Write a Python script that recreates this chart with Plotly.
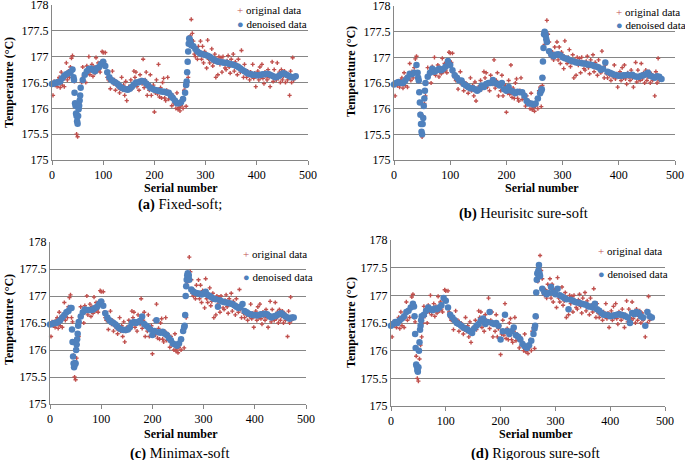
import plotly.graph_objects as go

# ---------------- data ----------------
orig_x = list(range(0, 476, 2))
orig_y = [
    176.48, 176.25, 176.52, 176.45, 176.5, 176.42, 176.55, 176.6, 176.4, 176.7,
    176.45, 176.62, 176.42, 176.6, 176.88, 176.55, 176.72, 176.6, 176.8, 176.97,
    177.02, 176.6, 176.52, 175.9, 175.5, 175.45, 175.85, 176.1, 176.25, 176.5,
    176.8, 176.62, 176.68, 176.5, 176.82, 176.7, 177.0, 176.65, 176.72, 176.85,
    176.62, 176.8, 176.68, 176.98, 176.72, 176.88, 176.75, 176.7, 176.9, 177.1,
    177.08, 176.9, 177.08, 176.7, 176.6, 176.55, 176.62, 176.38, 176.58, 176.72,
    176.48, 176.55, 176.35, 176.45, 176.5, 176.4, 176.3, 176.38, 176.6, 176.35,
    176.45, 176.25, 176.52, 176.15, 176.35, 176.42, 176.4, 176.55, 176.38, 176.45,
    176.72, 176.6, 176.7, 176.42, 176.5, 176.35, 176.65, 176.55, 176.48, 176.95,
    176.4, 176.55, 176.7, 176.25, 176.48, 176.35, 176.65, 176.25, 176.4, 176.45,
    175.93, 176.3, 176.55, 176.28, 176.85, 176.22, 176.4, 176.2, 176.5, 176.58,
    176.2, 176.15, 176.35, 176.6, 176.18, 176.3, 176.22, 176.05, 176.25, 176.1,
    176.15, 176.0, 176.3, 175.98, 176.02, 175.95, 176.05, 176.2, 176.0, 176.35,
    176.42, 176.04, 176.45, 176.6, 177.25, 177.4, 177.72, 177.45, 177.3, 177.05,
    177.0, 177.1, 176.95, 177.2, 177.05, 177.3, 176.95, 177.2, 176.88, 177.1,
    177.05, 176.78, 177.32, 176.95, 176.88, 177.0, 177.15, 176.82, 176.9, 177.05,
    176.6, 176.95, 176.65, 177.0, 176.85, 176.98, 176.7, 177.0, 176.9, 176.78,
    176.75, 176.92, 177.02, 176.8, 176.68, 176.95, 176.85, 177.05, 176.72, 176.9,
    176.8, 176.65, 176.95, 176.82, 176.7, 177.12, 176.75, 176.6, 176.85, 176.68,
    176.6, 176.72, 176.65, 176.55, 176.7, 176.62, 176.85, 176.58, 176.68, 176.42,
    176.62, 176.72, 176.55, 176.8, 176.6, 176.85, 176.58, 176.48, 176.7, 176.62,
    176.55, 176.75, 176.6, 176.42, 176.65, 176.9, 176.52, 176.75, 176.6, 176.55,
    176.88, 176.58, 176.7, 176.5, 176.75, 176.55, 176.62, 176.72, 176.5, 176.68,
    176.55, 176.6, 176.25, 176.72, 176.5, 176.98, 176.55, 176.62,
]

den_x = (list(range(0, 41, 4)) + list(range(42, 57)) + list(range(60, 261, 4))
         + list(range(262, 273)) + list(range(276, 477, 4)))

den_a = [
    176.47, 176.48, 176.5, 176.5, 176.52, 176.58, 176.63, 176.66, 176.68, 176.7, 176.75,
    176.6, 176.55, 176.3, 176.1, 176.05, 175.9, 175.85, 175.75, 175.7, 175.85, 175.98, 176.05, 176.15, 176.25, 176.4,
    176.55, 176.65, 176.72, 176.76, 176.77, 176.74, 176.72, 176.78, 176.8, 176.86,
    176.9, 176.82, 176.7, 176.6, 176.55, 176.52, 176.5, 176.47, 176.43, 176.4,
    176.38, 176.37, 176.36, 176.38, 176.42, 176.46, 176.5, 176.5, 176.52, 176.53,
    176.52, 176.48, 176.44, 176.4, 176.38, 176.36, 176.35, 176.34, 176.33, 176.32,
    176.32, 176.3, 176.3, 176.25, 176.2, 176.15, 176.1, 176.1, 176.12, 176.18,
    176.3,
    176.45, 176.52, 176.7, 176.9, 177.1, 177.25, 177.35, 177.33, 177.3, 177.25, 177.22,
    177.2, 177.15, 177.1, 177.07, 177.05, 177.04, 177.03, 177.02, 177.0, 176.97,
    176.94, 176.92, 176.9, 176.9, 176.89, 176.88, 176.88, 176.87, 176.86, 176.85,
    176.84, 176.82, 176.8, 176.77, 176.74, 176.72, 176.69, 176.67, 176.66, 176.65,
    176.65, 176.64, 176.64, 176.65, 176.66, 176.66, 176.67, 176.66, 176.64, 176.62,
    176.6, 176.61, 176.63, 176.66, 176.68, 176.66, 176.64, 176.62, 176.6, 176.6,
    176.62,
]

den_b = [
    176.47, 176.5, 176.52, 176.5, 176.5, 176.55, 176.6, 176.68, 176.67, 176.7, 176.85,
    176.7, 176.6, 176.55, 176.32, 176.12, 175.88, 175.7, 175.55, 175.5, 175.7, 175.82, 176.05, 176.2, 176.35, 176.5,
    176.62, 176.7, 176.78, 176.72, 176.75, 176.78, 176.75, 176.78, 176.82, 176.93,
    176.85, 176.75, 176.65, 176.6, 176.55, 176.55, 176.48, 176.45, 176.42, 176.4,
    176.4, 176.38, 176.35, 176.38, 176.45, 176.42, 176.48, 176.5, 176.5, 176.56,
    176.5, 176.48, 176.45, 176.5, 176.38, 176.35, 176.42, 176.35, 176.33, 176.3,
    176.33, 176.32, 176.32, 176.25, 176.15, 176.1, 176.1, 176.08, 176.1, 176.2,
    176.3,
    176.35, 176.38, 176.6, 176.92, 177.18, 177.45, 177.5, 177.47, 177.42, 177.35, 177.3,
    177.12, 177.05, 177.02, 177.05, 177.06, 177.04, 177.0, 176.98, 176.97, 176.95,
    176.93, 176.92, 176.9, 176.9, 176.89, 176.88, 176.88, 176.86, 176.86, 176.85,
    176.83, 176.82, 176.8, 176.76, 176.78, 176.9, 176.72, 176.7, 176.68, 176.66,
    176.65, 176.64, 176.64, 176.65, 176.65, 176.66, 176.65, 176.66, 176.63, 176.62,
    176.62, 176.64, 176.65, 176.67, 176.7, 176.64, 176.62, 176.6, 176.63, 176.62,
    176.58,
]

den_c = [
    176.47, 176.48, 176.5, 176.5, 176.52, 176.55, 176.6, 176.65, 176.7, 176.72, 176.78,
    176.78, 176.38, 176.15, 175.88, 175.75, 175.68, 175.72, 175.76, 175.75, 176.0, 176.1, 176.2, 176.3, 176.45, 176.52,
    176.62, 176.7, 176.75, 176.74, 176.74, 176.74, 176.75, 176.78, 176.8, 176.85,
    176.9, 176.82, 176.68, 176.6, 176.55, 176.52, 176.5, 176.47, 176.43, 176.4,
    176.38, 176.37, 176.37, 176.38, 176.42, 176.5, 176.52, 176.5, 176.52, 176.54,
    176.62, 176.48, 176.45, 176.42, 176.38, 176.28, 176.35, 176.55, 176.33, 176.32,
    176.34, 176.3, 176.28, 176.22, 176.18, 176.12, 176.1, 176.08, 176.12, 176.2,
    176.35,
    176.42, 176.45, 176.65, 177.0, 177.18, 177.3, 177.38, 177.42, 177.4, 177.38, 177.3,
    177.12, 177.08, 177.06, 177.05, 177.04, 177.03, 177.05, 177.08, 177.02, 177.0,
    176.97, 176.95, 176.94, 176.8, 176.92, 176.9, 176.89, 176.88, 176.87, 176.86,
    176.85, 176.83, 176.8, 176.78, 176.8, 176.85, 176.72, 176.7, 176.67, 176.66,
    176.65, 176.65, 176.64, 176.65, 176.66, 176.66, 176.67, 176.66, 176.63, 176.6,
    176.62, 176.63, 176.65, 176.67, 176.68, 176.65, 176.62, 176.6, 176.58, 176.6,
    176.6,
]

den_d = [
    176.45, 176.48, 176.52, 176.5, 176.55, 176.58, 176.62, 176.7, 176.72, 176.78, 176.85,
    176.8, 176.62, 176.3, 176.05, 175.75, 175.72, 175.65, 175.62, 175.7, 176.0, 176.15, 176.38, 176.45, 176.55, 176.62,
    176.65, 176.72, 176.78, 176.75, 176.73, 176.76, 176.75, 176.78, 176.82, 176.95,
    176.9, 176.78, 176.65, 176.6, 176.55, 176.5, 176.48, 176.45, 176.42, 176.4,
    176.38, 176.35, 176.32, 176.4, 176.45, 176.48, 176.55, 176.58, 176.48, 176.52,
    176.7, 176.5, 176.48, 176.5, 176.45, 176.2, 176.35, 176.65, 176.35, 176.3,
    176.35, 176.42, 176.28, 176.25, 176.2, 176.12, 176.08, 176.05, 176.1, 176.18,
    176.3,
    176.4, 176.45, 176.62, 177.05, 177.28, 177.4, 177.38, 177.45, 177.55, 177.4, 177.35,
    177.12, 177.05, 177.02, 177.04, 177.15, 177.05, 177.02, 177.12, 177.0, 176.98,
    176.95, 176.93, 176.75, 176.92, 176.9, 176.88, 176.87, 176.86, 176.85, 176.84,
    176.83, 176.8, 176.8, 176.78, 176.85, 176.75, 176.72, 176.68, 176.65, 176.65,
    176.64, 176.62, 176.63, 176.64, 176.65, 176.66, 176.65, 176.64, 176.62, 176.6,
    176.5, 176.68, 176.66, 176.7, 176.68, 176.62, 176.6, 176.45, 176.7, 176.62,
    176.6,
]

captions = [("(a)", " Fixed-soft;"), ("(b)", " Heurisitc sure-soft"),
            ("(c)", " Minimax-soft"), ("(d)", " Rigorous sure-soft")]
x_title = "Serial number"
y_title = "Temperature (°C)"
y_ticks = [175, 175.5, 176, 176.5, 177, 177.5, 178]
x_ticks = [0, 100, 200, 300, 400, 500]

# ---------------- layout geometry (window pixels) ----------------
W, H = 685, 460
RED = "#C0504D"
BLUE = "#4F81BD"
FONT = "Liberation Serif"

areas = [(52, 308, 5, 160), (394, 675, 6, 160), (50, 306, 242, 404), (391, 665, 240, 406)]
xtitle_pos = [(181, 188), (542, 188), (181, 434), (536, 434)]
ytitle_pos = [(9, 83), (351, 72), (9, 320), (351, 323)]
cap_pos = [(180, 204), (523, 213), (179, 453), (535, 453)]
leg_pos = [(242, 10, 24), (621, 12, 25), (248, 254, 277), (603, 251, 274)]


def px(x):
    return x / W


def py(y):
    return 1 - y / H


fig = go.Figure()
den_sets = [den_a, den_b, den_c, den_d]
annotations = []
for i in range(4):
    sx = "" if i == 0 else str(i + 1)
    xa, ya = "x" + sx, "y" + sx
    fig.add_trace(go.Scatter(x=orig_x, y=orig_y, mode="markers", xaxis=xa, yaxis=ya,
                             marker=dict(color=RED, size=3.5, symbol="cross", line=dict(width=0)),
                             name="original data", showlegend=False, cliponaxis=False))
    fig.add_trace(go.Scatter(x=den_x, y=den_sets[i], mode="markers", xaxis=xa, yaxis=ya,
                             marker=dict(color=BLUE, size=6.5, line=dict(width=0)),
                             name="denoised data", showlegend=False, cliponaxis=False))
    l, r, t, b = areas[i]
    tickfont = dict(family=FONT, size=12, color="#000")
    fig.layout["xaxis" + sx] = dict(domain=[px(l), px(r)], anchor=ya, range=[0, 500],
                                    tickvals=x_ticks, showgrid=False, zeroline=False,
                                    showline=True, linecolor="#868686", linewidth=1,
                                    ticks="outside", tickcolor="#868686", ticklen=4,
                                    tickfont=tickfont, automargin=False,
                                    ticklabeloverflow="allow")
    fig.layout["yaxis" + sx] = dict(domain=[py(b), py(t)], anchor=xa, range=[175, 178],
                                    tickvals=y_ticks, showgrid=True, gridcolor="#868686",
                                    gridwidth=1, zeroline=False, showline=True,
                                    linecolor="#868686", linewidth=1, ticks="",
                                    tickfont=tickfont, automargin=False,
                                    ticklabeloverflow="allow")
    common = dict(xref="paper", yref="paper", showarrow=False, yanchor="middle")
    fx, fy = xtitle_pos[i]
    annotations.append(dict(x=px(fx), y=py(fy), xanchor="center", text="<b>" + x_title + "</b>",
                            font=dict(family=FONT, size=12, color="#000"), **common))
    tx, ty = ytitle_pos[i]
    annotations.append(dict(x=px(tx), y=py(ty), xanchor="center", text="<b>" + y_title + "</b>",
                            textangle=-90, font=dict(family=FONT, size=12, color="#000"), **common))
    cx, cy = cap_pos[i]
    annotations.append(dict(x=px(cx), y=py(cy), xanchor="center",
                            text="<b>" + captions[i][0] + "</b>" + captions[i][1],
                            font=dict(family=FONT, size=14.5, color="#000"), **common))
    lx, ly1, ly2 = leg_pos[i]
    annotations.append(dict(x=px(lx - 7), y=py(ly1), xanchor="left",
                            text="<span style='color:%s'>+</span> original data" % RED,
                            font=dict(family=FONT, size=11, color="#000"), **common))
    annotations.append(dict(x=px(lx - 7), y=py(ly2), xanchor="left",
                            text="<span style='color:%s'>●</span> denoised data" % BLUE,
                            font=dict(family=FONT, size=11, color="#000"), **common))

fig.update_layout(width=W, height=H, margin=dict(l=0, r=0, t=0, b=0),
                  paper_bgcolor="white", plot_bgcolor="white", annotations=annotations,
                  showlegend=False)
# the page body has a default 8px margin; remove it so the figure fills the window exactly
fig.write_html("out.html", config={"displayModeBar": False},
               post_script="document.body.style.margin='0';")
